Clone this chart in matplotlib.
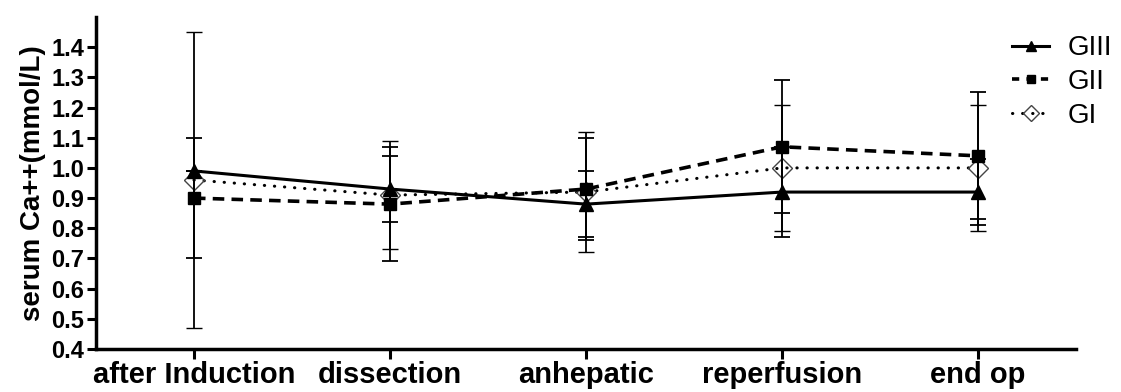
import matplotlib
matplotlib.use("Agg")
import matplotlib.pyplot as plt
from matplotlib.lines import Line2D
import numpy as np

categories = ["after Induction", "dissection", "anhepatic", "reperfusion", "end op"]
g3_mean = [0.99, 0.93, 0.88, 0.92, 0.92]
g3_sd = [0.00, 0.11, 0.11, 0.15, 0.11]
g2_mean = [0.90, 0.88, 0.93, 1.07, 1.04]
g2_sd = [0.20, 0.19, 0.17, 0.22, 0.21]
g1_mean = [0.96, 0.91, 0.92, 1.00, 1.00]
g1_sd = [0.49, 0.18, 0.20, 0.21, 0.21]
yticks = [0.4, 0.5, 0.6, 0.7, 0.8, 0.9, 1.0, 1.1, 1.2, 1.3, 1.4]

plt.rcParams['font.family'] = ['Liberation Sans', 'DejaVu Sans']

fig = plt.figure(figsize=(11.21, 3.92), dpi=100)
ax = fig.add_axes([0.0856, 0.1097, 0.8743, 0.8469])
x = np.arange(len(categories))

err_kw = dict(ecolor='black', elinewidth=1.3, capsize=6, capthick=1.3)

s1 = dict(color='black', lw=2.2, linestyle=(0, (0.1, 3.2)), dash_capstyle='round',
          marker='D', ms=10, mfc='none', mec='#444444', mew=1.0)
s2 = dict(color='black', lw=2.6, linestyle=(0, (3.2, 2.0)),
          marker='s', ms=8, mfc='black', mec='black')
s3 = dict(color='black', lw=2.2, linestyle='-', marker='^', ms=10,
          mfc='black', mec='black')

ax.errorbar(x, g1_mean, yerr=g1_sd, zorder=3, **s1, **err_kw)
ax.errorbar(x, g2_mean, yerr=g2_sd, zorder=4, **s2, **err_kw)
ax.errorbar(x, g3_mean, yerr=g3_sd, zorder=5, **s3, **err_kw)

ax.set_xlim(-0.5, len(categories) - 0.5)
ax.set_ylim(0.4, 1.5)
ax.set_yticks(yticks)
ax.set_yticklabels([f"{v:.1f}" for v in yticks])
ax.set_xticks(x)
ax.set_xticklabels(categories)

for s in ['top', 'right']:
    ax.spines[s].set_visible(False)
for s in ['left', 'bottom']:
    ax.spines[s].set_linewidth(2.5)

ax.tick_params(axis='y', direction='out', length=6.5, width=2.2, labelsize=17, pad=2)
ax.tick_params(axis='x', direction='out', length=7, width=2.2, labelsize=21, pad=2)
for lab in ax.get_xticklabels() + ax.get_yticklabels():
    lab.set_fontweight('bold')

ax.set_ylabel("serum Ca++(mmol/L)", fontsize=20, fontweight='bold', labelpad=4)

h3 = Line2D([], [], **{**s3, 'ms': 7})
h2 = Line2D([], [], **{**s2, 'ms': 6, 'linestyle': (0, (2.0, 2.0))})
h1 = Line2D([], [], **{**s1, 'ms': 8})
leg = fig.legend(handles=[h3, h2, h1], labels=['GIII', 'GII', 'GI'],
                 loc='upper left', bbox_to_anchor=(0.903, 0.910),
                 frameon=False, fontsize=20, handlelength=1.33,
                 labelspacing=0.28, handletextpad=0.68, borderaxespad=0,
                 borderpad=0)

fig.savefig("out.png", dpi=100)
